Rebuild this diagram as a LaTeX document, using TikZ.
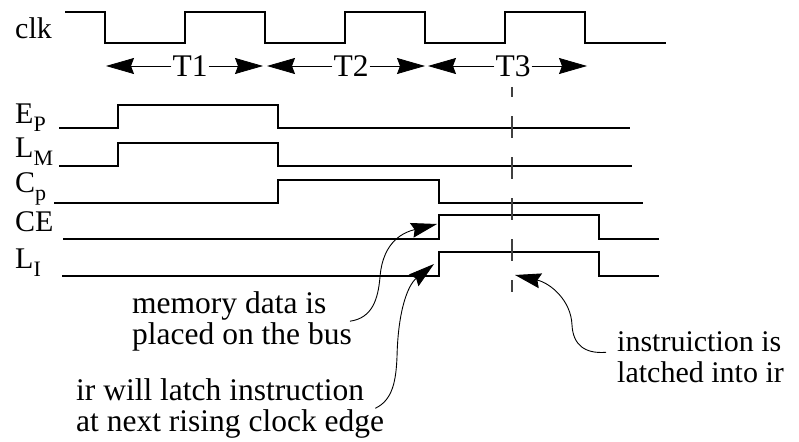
\documentclass[tikz,border=0pt]{standalone}
\usepackage{fontspec}
\setmainfont{Liberation Serif}
\usetikzlibrary{arrows.meta}
\newcommand{\lowsub}[1]{\raisebox{-8pt}{\fontsize{22}{22}\selectfont #1}}

\begin{document}
\begin{tikzpicture}[x=1pt,y=-1pt,
	font=\fontsize{31.5}{30.5}\selectfont,
	sig/.style={line width=1.3pt},
	big/.style={-{Stealth[length=28pt,width=16pt,inset=3pt]},line width=0.8pt},
	bent/.style={-{Stealth[length=26pt,width=15pt,inset=3pt]},line width=0.9pt},
	lbl/.style={inner sep=0pt,anchor=base west,font=\fontsize{30}{30}\selectfont},
	note/.style={align=left,inner sep=0pt,anchor=north west}]
	\useasboundingbox (0,0) rectangle (799,441);
	% signal names
	\node[lbl] (clk) at (15,39) {clk};
	\node[lbl] (ep) at (15,123) {E\lowsub{P}};
	\node[lbl] (lm) at (15,157) {L\lowsub{M}};
	\node[lbl] (cp) at (15,192) {C\lowsub{p}};
	\node[lbl] (ce) at (15,231) {CE};
	\node[lbl] (li) at (15,268) {L\lowsub{I}};
	% waveforms
	\draw[sig] (65,12) \foreach \x in {105,265,425} {-- (\x,12) -- (\x,43) -- (\x+80,43) -- (\x+80,12)}
		-- (585,12) -- (585,43) -- (666,43);
	\draw[sig] (59,128) -- (118,128) -- (118,105) -- (278,105) -- (278,128) -- (630,128);
	\draw[sig] (59,166) -- (118,166) -- (118,143) -- (278,143) -- (278,166) -- (632,166);
	\draw[sig] (54,203) -- (278,203) -- (278,180) -- (439,180) -- (439,203) -- (643,203);
	\draw[sig] (63,239) -- (439,239) -- (439,215) -- (599,215) -- (599,239) -- (659,239);
	\draw[sig] (62,276) -- (439,276) -- (439,252) -- (599,252) -- (599,276) -- (659,276);
	% clock periods
	\node[inner sep=1pt] (t1) at (190,66) {T1};
	\node[inner sep=1pt] (t2) at (351,66) {T2};
	\node[inner sep=1pt] (t3) at (513,66) {T3};
	\coordinate (t1l) at (106,66);
	\coordinate (t1r) at (263,66);
	\coordinate (t2l) at (267,66);
	\coordinate (t2r) at (425,66);
	\coordinate (t3l) at (428,66);
	\coordinate (t3r) at (587,66);
	\draw[big] (t1) -- (t1l);
	\draw[big] (t1) -- (t1r);
	\draw[big] (t2) -- (t2l);
	\draw[big] (t2) -- (t2r);
	\draw[big] (t3) -- (t3l);
	\draw[big] (t3) -- (t3r);
	% latch instant
	\coordinate (dtop) at (512,87);
	\coordinate (dbot) at (512,292);
	\draw[line width=1.2pt, black!75, dash pattern=on 22pt off 19pt, dash phase=12pt] (dtop) -- (dbot);
	% notes
	\node[note] (mem) at (132,291.5) {memory data is\\placed on the bus};
	\node[note] (ir) at (76,378.5) {ir will latch instruction\\at next rising clock edge};
	\node[note,font=\fontsize{30}{31}\selectfont] (ins) at (617,331.5) {instruiction is\\latched into ir};
	\coordinate (cetip) at (437,224);
	\coordinate (litip) at (434,264);
	\coordinate (latch) at (515,275);
	\draw[bent] ([xshift=-2pt]mem.east) .. controls (372,318) and (378,300) .. (380,277)
		.. controls (383,240) and (405,232) .. (cetip);
	\draw[bent] ([xshift=-9pt]ir.east) .. controls (393,400) and (396,380) .. (397,357)
		.. controls (398,310) and (408,285) .. (litip);
	\draw[bent] ([xshift=-11pt,yshift=5pt]ins.west) .. controls (585,354) and (573,345) .. (572,325)
		.. controls (571,300) and (550,283) .. (latch);
\end{tikzpicture}
\end{document}
